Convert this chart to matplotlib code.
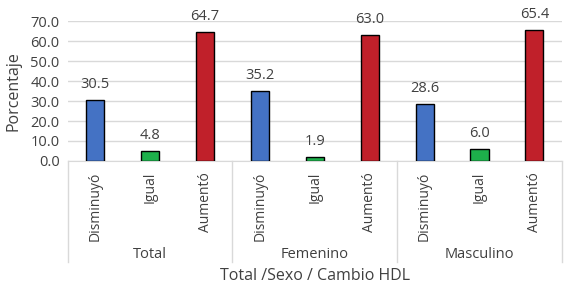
import matplotlib
matplotlib.use("Agg")
from matplotlib import pyplot as plt

groups = ["Total", "Femenino", "Masculino"]
cambios = ["Disminuyó", "Igual", "Aumentó"]
disminuyo = [30.5, 35.2, 28.6]
igual = [4.8, 1.9, 6.0]
aumento = [64.7, 63.0, 65.4]
colores = ["#4472C4", "#1DB04B", "#C0202A"]

plt.rcParams["font.family"] = ["Open Sans", "DejaVu Sans"]
gris = "#404040"

fig = plt.figure(figsize=(5.75, 2.88), dpi=100)
ax = fig.add_axes([0.118, 0.441, 0.859, 0.486])

series = [disminuyo, igual, aumento]
xs, labels = [], []
for g in range(len(groups)):
    for k in range(len(cambios)):
        x = g * 3 + k
        v = series[k][g]
        ax.bar(x, v, width=0.33, color=colores[k], edgecolor="black", linewidth=1, zorder=3)
        ax.text(x, v + 4, "%.1f" % v, ha="center", va="bottom", fontsize=10.5, color=gris)
        xs.append(x)
        labels.append(cambios[k])

ax.set_xlim(-0.5, 8.5)
ax.set_ylim(0, 70)
ax.set_yticks(range(0, 71, 10))
ax.set_yticklabels(["%.1f" % v for v in range(0, 71, 10)], fontsize=10.5, color=gris)
ax.set_xticks(xs)
ax.set_xticklabels(labels, rotation=90, fontsize=10, color=gris)
ax.tick_params(length=0, pad=6)
ax.tick_params(axis="x", pad=8)
ax.grid(axis="y", color="#D9D9D9", linewidth=1, zorder=0)
for s in ["top", "right", "left"]:
    ax.spines[s].set_visible(False)
ax.spines["bottom"].set_color("#D9D9D9")

for b in [-0.5, 2.5, 5.5, 8.5]:
    ax.plot([b, b], [0, -0.72], transform=ax.get_xaxis_transform(), color="#D9D9D9",
            linewidth=1, clip_on=False)
for g, name in enumerate(groups):
    ax.text(g * 3 + 1, -0.67, name, transform=ax.get_xaxis_transform(), ha="center",
            va="center", fontsize=10.5, color=gris)

ax.set_ylabel("Porcentaje", fontsize=11.5, color=gris, labelpad=6)
fig.text(0.547, 0.04, "Total /Sexo / Cambio HDL", ha="center", va="center", fontsize=11.5, color=gris)

plt.savefig("out.png")
